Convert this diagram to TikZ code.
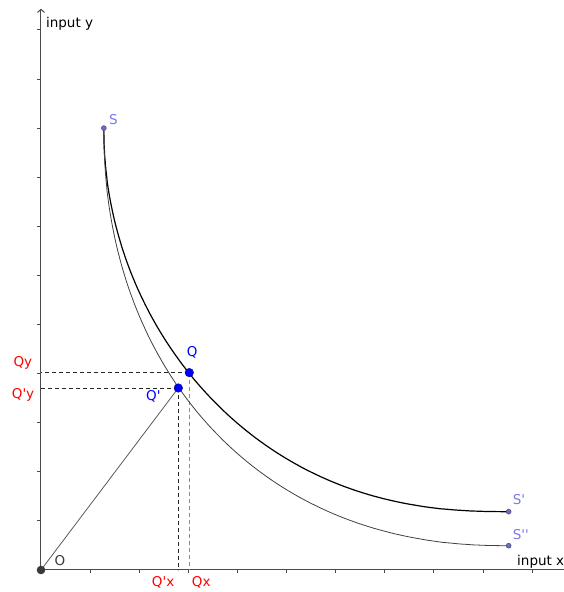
\documentclass[tikz,border=0pt]{standalone}
\usepackage{fontspec}
\newfontfamily\ggfont{DejaVu Sans}
\usetikzlibrary{arrows.meta}
\definecolor{axisgray}{HTML}{4A4A4A}
\definecolor{ptblue}{HTML}{0000FF}
\definecolor{sblue}{HTML}{7878F0}
\definecolor{spt}{HTML}{6A6AE0}
\definecolor{ogray}{HTML}{3A3A3A}
\definecolor{lred}{HTML}{FF0000}
\tikzset{
  lbl/.style={inner sep=0pt, anchor=base west},
  redlbl/.style={lbl, text=lred},
  bluelbl/.style={lbl, text=ptblue},
  slbl/.style={lbl, text=sblue},
  olbl/.style={lbl, text=ogray},
  bigpt/.style={circle, fill=ptblue, draw=ptblue!55!black, line width=0.4pt, minimum size=8.6pt, inner sep=0pt},
  smallpt/.style={circle, fill=spt, draw=black!75, line width=0.4pt, minimum size=5pt, inner sep=0pt},
  opt/.style={circle, fill=ogray, minimum size=8.6pt, inner sep=0pt},
  axisline/.style={draw=axisgray, line width=1pt},
  tickline/.style={draw=axisgray, line width=0.8pt},
  dashblack/.style={draw=black!85, line width=0.8pt, dash pattern=on 4pt off 3pt},
  dashgray/.style={draw=black!45, line width=0.8pt, dash pattern=on 4pt off 3pt},
  outercurve/.style={draw=black, line width=1.2pt},
  innercurve/.style={draw=black!75, line width=0.8pt},
  rayline/.style={draw=black!65, line width=0.8pt},
  declare function={
    no(\t)=2.05+0.25*(\t/90)^2;
    ni(\t)=2.13+0.08*\t/90;
  }
}
\begin{document}
\begin{tikzpicture}[x=49.1pt, y=49.1pt, font={\ggfont\fontsize{13.5pt}{16pt}\selectfont}]
\useasboundingbox (-0.8350,-0.4481) rectangle (10.6314,11.6090);
% named coordinates
\coordinate (o) at (0,0);
\coordinate (xend) at (10.70,0);
\coordinate (yend) at (0,11.43);
\coordinate (s) at (1.28,9.0);
\coordinate (s1) at (9.525,1.188);
\coordinate (s2) at (9.525,0.495);
\coordinate (q) at (3.02,4.02);
\coordinate (qp) at (2.797,3.707);
\coordinate (qx) at (3.02,0);
\coordinate (qy) at (0,4.02);
\coordinate (qpx) at (2.797,0);
\coordinate (qpy) at (0,3.707);
% axes
\draw[axisline] (o) -- (xend);
\draw[axisline, -{Straight Barb[length=3pt,width=7pt]}] (o) -- (yend);
\foreach \k in {1,...,10} \draw[tickline] (\k,0) -- ++(0,-3.5pt);
\foreach \k in {1,...,11} \draw[tickline] (0,\k) -- ++(-3.5pt,0);
% dashed projections
\draw[dashblack] (q) -- (qy);
\draw[dashblack] (qp) -- (qpy);
\draw[dashgray] (q) -- (qx);
\draw[dashblack] (qp) -- (qpx);
% ray
\draw[rayline] (o) -- (qp);
% curves (superellipse-like isoquants)
\draw[outercurve] (s) -- plot[domain=0.05:89.95, samples=120, variable=\t]
  ({9.525-8.245*pow(cos(\t),2/no(\t))}, {9-7.812*pow(sin(\t),2/no(\t))}) -- (s1);
\draw[innercurve] (s) -- plot[domain=0.05:89.95, samples=120, variable=\t]
  ({9.525-8.245*pow(cos(\t),2/ni(\t))}, {9-8.505*pow(sin(\t),2/ni(\t))}) -- (s2);
% points
\node[opt] (O) at (o) {};
\node[smallpt] (S) at (s) {};
\node[smallpt] (S1) at (s1) {};
\node[smallpt] (S2) at (s2) {};
\node[bigpt] (Qp) at (qp) {};
\node[bigpt] (Q) at (q) {};
% labels
\node[lbl] (ly) at (0.10,11.04) {input y};
\node[lbl] (lx) at (9.695,0.092) {input x};
\node[olbl] (lO) at (0.271,0.092) {O};
\node[slbl] (lS) at (1.385,9.067) {S};
\node[slbl] (lS1) at (9.607,1.344) {S'};
\node[slbl] (lS2) at (9.607,0.621) {S''};
\node[bluelbl] (lQ) at (2.967,4.348) {Q};
\node[bluelbl] (lQp) at (2.138,3.452) {Q'};
\node[redlbl] (lQy) at (-0.564,4.141) {Qy};
\node[redlbl] (lQpy) at (-0.597,3.50) {Q'y};
\node[redlbl] (lQpx) at (2.255,-0.342) {Q'x};
\node[redlbl] (lQx) at (3.069,-0.342) {Qx};
\end{tikzpicture}
\end{document}
